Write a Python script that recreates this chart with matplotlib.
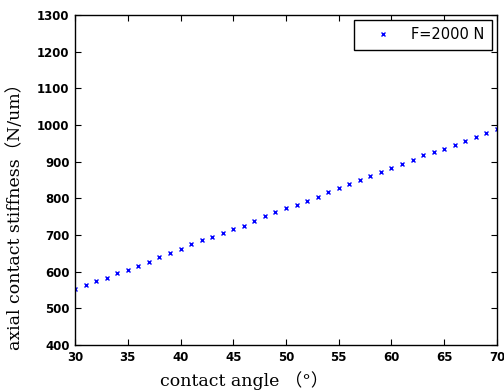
import matplotlib.pyplot as plt

angle = list(range(30, 71))
stiffness = [553, 564, 574, 582, 596, 605, 616, 627, 639, 650,
             662, 674, 686, 694, 705, 715, 725, 737, 753, 762,
             774, 782, 793, 804, 816, 828, 840, 851, 860, 871,
             883, 894, 905, 917, 926, 934, 945, 957, 968, 979,
             988]
xticks = [30, 35, 40, 45, 50, 55, 60, 65, 70]
yticks = list(range(400, 1301, 100))

fig = plt.figure(figsize=(5.04, 3.92), dpi=100)
ax = fig.add_axes([0.149, 0.12, 0.837, 0.842])
ax.plot(angle, stiffness, 'bx', markersize=3.5, markeredgewidth=1.0, label='F=2000 N')
ax.set_xlim(30, 70)
ax.set_ylim(400, 1300)
ax.set_xticks(xticks)
ax.set_yticks(yticks)
ax.tick_params(direction='in', top=True, right=True, length=4, labelsize=8.5, pad=4)
for t in ax.get_xticklabels() + ax.get_yticklabels():
    t.set_fontweight('bold')
for s in ax.spines.values():
    s.set_linewidth(1.0)

lab_font = ['DejaVu Serif', 'Noto Sans CJK SC']
ax.set_xlabel('contact angle （°）', family=lab_font, fontsize=12.5)
ax.set_ylabel('axial contact stiffness（N/um）', family=lab_font, fontsize=12.5)
ax.xaxis.set_label_coords(0.40, -0.08)
ax.yaxis.set_label_coords(-0.12, 0.40)

leg = ax.legend(loc='upper right', fontsize=10.5, fancybox=False, edgecolor='black',
                framealpha=1, borderaxespad=0.35, borderpad=0.5,
                handlelength=3, handletextpad=0.4, numpoints=1)
leg.get_frame().set_linewidth(1.0)

plt.savefig('out.png', dpi=100)
